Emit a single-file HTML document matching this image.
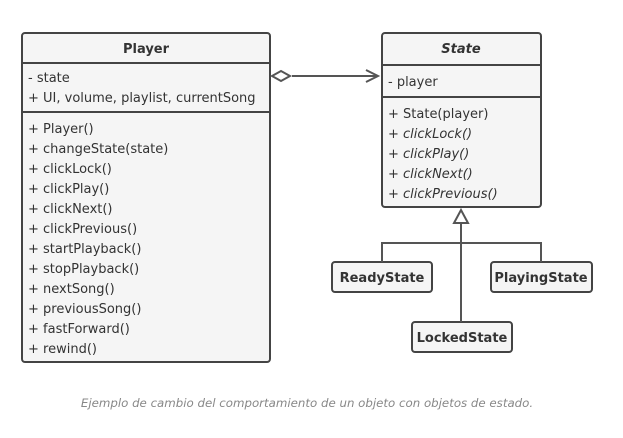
<!DOCTYPE html>
<html><head><style>
body{margin:0;width:623px;height:433px;background:#fff;overflow:hidden}
svg text{font-family:"DejaVu Sans","Liberation Sans",sans-serif;font-size:13px;fill:#333}
.b{font-weight:bold}
.i{font-style:italic}
</style></head><body>
<svg width="623" height="433" viewBox="0 0 623 433">
<g stroke="#444" stroke-width="2" fill="#f5f5f5">
<rect x="22" y="33" width="248" height="329" rx="3"/>
<line x1="22" y1="63" x2="270" y2="63"/>
<line x1="22" y1="112" x2="270" y2="112"/>
<rect x="382" y="33" width="159" height="174" rx="3"/>
<line x1="382" y1="65" x2="541" y2="65"/>
<line x1="382" y1="97" x2="541" y2="97"/>
<rect x="332" y="262" width="100" height="30" rx="3"/>
<rect x="491" y="262" width="101" height="30" rx="3"/>
<rect x="412" y="322" width="100" height="30" rx="3"/>
</g>
<g stroke="#555" stroke-width="2" fill="none">
<line x1="292" y1="76" x2="378" y2="76"/>
<polyline points="366,70 378,76 366,82"/>
<line x1="461" y1="223" x2="461" y2="322"/>
<polyline points="382,262 382,243 541,243 541,262"/>
</g>
<polygon points="272,76 281,71 290,76 281,81" fill="#fff" stroke="#555" stroke-width="2"/>
<polygon points="461,210 468,223 454,223" fill="#fff" stroke="#555" stroke-width="2"/>
<text x="146" y="53" text-anchor="middle" class="b">Player</text>
<text x="28" y="82">- state</text>
<text x="28" y="102">+ UI, volume, playlist, currentSong</text>
<text x="28" y="133">+ Player()</text>
<text x="28" y="153">+ changeState(state)</text>
<text x="28" y="173">+ clickLock()</text>
<text x="28" y="193">+ clickPlay()</text>
<text x="28" y="213">+ clickNext()</text>
<text x="28" y="233">+ clickPrevious()</text>
<text x="28" y="253">+ startPlayback()</text>
<text x="28" y="273">+ stopPlayback()</text>
<text x="28" y="293">+ nextSong()</text>
<text x="28" y="313">+ previousSong()</text>
<text x="28" y="333">+ fastForward()</text>
<text x="28" y="353">+ rewind()</text>
<text x="461" y="53" text-anchor="middle" class="b i">State</text>
<text x="388" y="86">- player</text>
<text x="388" y="118">+ State(player)</text>
<text x="388" y="138" class="i">+ clickLock()</text>
<text x="388" y="158" class="i">+ clickPlay()</text>
<text x="388" y="178" class="i">+ clickNext()</text>
<text x="388" y="198" class="i">+ clickPrevious()</text>
<text x="382" y="282" text-anchor="middle" class="b">ReadyState</text>
<text x="541" y="282" text-anchor="middle" class="b">PlayingState</text>
<text x="462" y="342" text-anchor="middle" class="b">LockedState</text>
<text x="307" y="407" text-anchor="middle" class="i" style="font-size:11.8px;fill:#888">Ejemplo de cambio del comportamiento de un objeto con objetos de estado.</text>
</svg>
</body></html>
